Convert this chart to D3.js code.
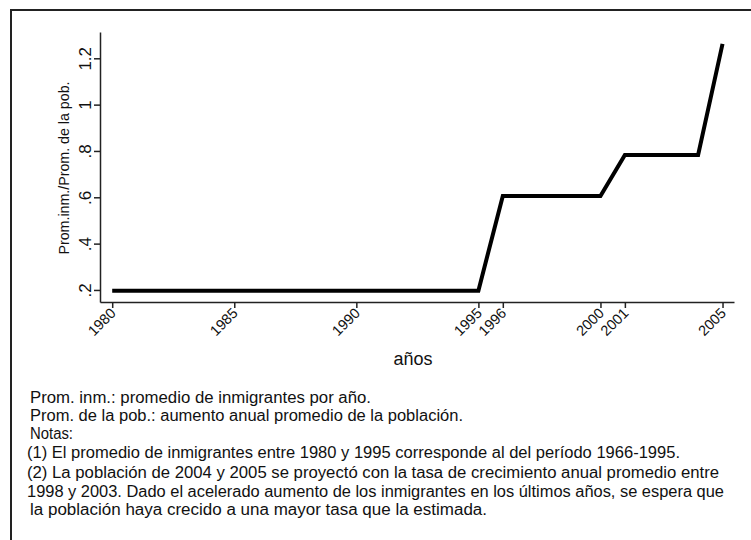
<!DOCTYPE html>
<html><head><meta charset="utf-8">
<script src="https://cdn.jsdelivr.net/npm/d3@7"></script>
<style>body{margin:0;background:#fff}svg{display:block}text{font-family:"Liberation Sans",Arial,sans-serif;fill:#111}</style>
</head><body>
<script>
const years = [1980,1981,1982,1983,1984,1985,1986,1987,1988,1989,1990,1991,1992,1993,1994,1995,1996,1997,1998,1999,2000,2001,2002,2003,2004,2005];
const ratio = [0.197,0.197,0.197,0.197,0.197,0.197,0.197,0.197,0.197,0.197,0.197,0.197,0.197,0.197,0.197,0.197,0.606,0.606,0.606,0.606,0.606,0.783,0.783,0.783,0.783,1.262];
const xTicks = [1980,1985,1990,1995,1996,2000,2001,2005];
const yTicks = [0.2,0.4,0.6,0.8,1,1.2];
const yTickLabels = [".2",".4",".6",".8","1","1.2"];
const xTitle = "años";
const yTitle = "Prom.inm./Prom. de la pob.";
const notes = [
  "Prom. inm.: promedio de inmigrantes por año.",
  "Prom. de la pob.: aumento anual promedio de la población.",
  "Notas:",
  "(1) El promedio de inmigrantes entre 1980 y 1995 corresponde al del período 1966-1995.",
  "(2) La población de 2004 y 2005 se proyectó con la tasa de crecimiento anual promedio entre",
  "1998 y 2003. Dado el acelerado aumento de los inmigrantes en los últimos años, se espera que",
  "la población haya crecido a una mayor tasa que la estimada."
];

const W = 751, H = 540;
const svg = d3.select("body").append("svg").attr("width", W).attr("height", H);
svg.append("rect").attr("width", W).attr("height", H).attr("fill", "#fff");
svg.append("path").attr("d", "M11,541 L11,10 L752,10").attr("fill", "none").attr("stroke", "#222").attr("stroke-width", 2);

const x = d3.scaleLinear().domain([1979.5, 2005.47]).range([100, 734]);
const y = d3.scaleLinear().domain([0.148, 1.3135]).range([302, 32]);

const xAxis = svg.append("g").attr("transform", "translate(0,302)")
  .call(d3.axisBottom(x).tickValues(xTicks).tickFormat(d3.format("d")).tickSize(6).tickSizeOuter(0));
xAxis.attr("font-family", null).attr("font-size", null);
xAxis.select(".domain").attr("stroke", "#222").attr("stroke-width", 1.5);
xAxis.selectAll(".tick line").attr("stroke", "#222").attr("stroke-width", 1.5);
xAxis.selectAll(".tick text")
  .style("font-size", "14.5px").attr("text-anchor", "end")
  .attr("dy", null).attr("y", 0).attr("x", 0)
  .attr("transform", "translate(4,12) rotate(-45)");

const yAxis = svg.append("g").attr("transform", "translate(100,0)")
  .call(d3.axisLeft(y).tickValues(yTicks).tickFormat((d, i) => yTickLabels[i]).tickSize(6).tickSizeOuter(0));
yAxis.attr("font-family", null).attr("font-size", null);
yAxis.select(".domain").attr("stroke", "#222").attr("stroke-width", 1.5);
yAxis.selectAll(".tick line").attr("stroke", "#222").attr("stroke-width", 1.5);
yAxis.selectAll(".tick text")
  .style("font-size", "17px").attr("text-anchor", "middle")
  .attr("dy", null).attr("x", 0).attr("y", 0)
  .attr("transform", "translate(-9,0) rotate(-90)");

const line = d3.line().x((d, i) => x(years[i])).y(d => y(d));
svg.append("path").datum(ratio).attr("d", line)
  .attr("fill", "none").attr("stroke", "#000").attr("stroke-width", 4).attr("stroke-linejoin", "miter");

svg.append("text").attr("x", 413).attr("y", 365).attr("text-anchor", "middle").style("font-size", "18px").text(xTitle);

svg.append("text").attr("transform", "translate(69,168) rotate(-90)")
  .attr("text-anchor", "middle").style("font-size", "14px")
  .attr("textLength", 173).attr("lengthAdjust", "spacingAndGlyphs").text(yTitle);

const lineY = [403, 421, 439, 458, 478, 497, 515];
const lineX = [30, 30, 30, 27, 27, 27, 30];
const lineW = [341, 433, 43, 653, 692, 697, 457];
svg.append("g").selectAll("text").data(notes).join("text")
  .attr("x", (d, i) => lineX[i]).attr("y", (d, i) => lineY[i])
  .style("font-size", "16px")
  .attr("textLength", (d, i) => lineW[i]).attr("lengthAdjust", "spacingAndGlyphs")
  .text(d => d);
</script>
</body></html>
